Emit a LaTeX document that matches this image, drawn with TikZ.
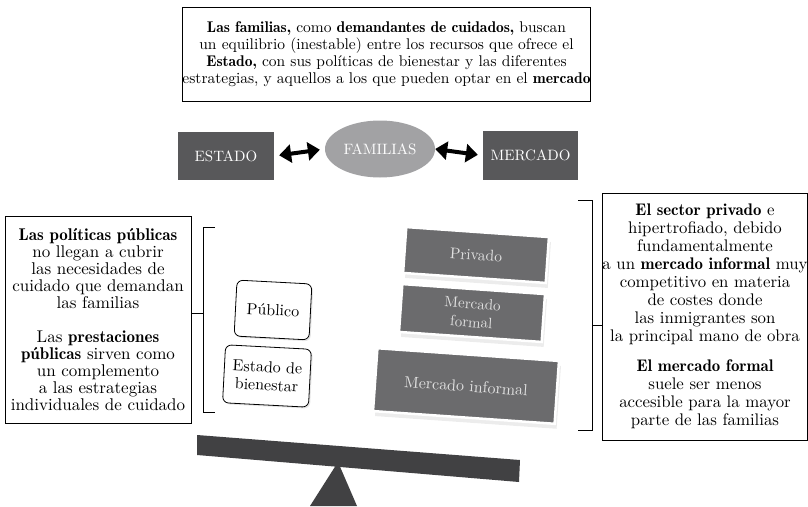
\documentclass[tikz,border=0pt]{standalone}
\usepackage{fontspec}
\setmainfont{lmroman10-regular.otf}[BoldFont=lmromandemi10-regular.otf,
  ItalicFont=lmroman10-italic.otf]
\usetikzlibrary{shapes.geometric,positioning,arrows.meta,shadows}

\definecolor{cajaoscura}{HTML}{58585A}
\definecolor{cajagris}{HTML}{6B6B6D}
\definecolor{elipsegris}{HTML}{A2A2A4}
\definecolor{balanza}{HTML}{414143}

\tikzset{
  textobox/.style={draw,line width=0.8pt,align=center,inner sep=0pt,
    font=\fontsize{15.5}{17}\selectfont},
  actor/.style={fill=cajaoscura,text=white,inner sep=0pt,
    font=\fontsize{15}{17}\selectfont},
  pieza/.style={rectangle,rounded corners=6pt,draw,fill=white,line width=0.8pt,align=center,
    inner sep=0pt,font=\fontsize{16}{18}\selectfont,
    drop shadow={opacity=0.2,shadow xshift=1.5pt,shadow yshift=-1.5pt}},
  bloque/.style={fill=cajagris,draw=white,line width=2.5pt,text=white!88!black,
    align=center,inner sep=0pt,font=\fontsize{15.5}{17}\selectfont,
    drop shadow={opacity=0.15,shadow xshift=2pt,shadow yshift=-5pt}},
  flecha/.style={line width=4pt,{Triangle[length=12pt,width=18pt]}-{Triangle[length=12pt,width=18pt]}},
  llave/.style={line width=0.8pt}
}

\begin{document}
\begin{tikzpicture}[x=1pt,y=-1pt]
  \useasboundingbox (0,0) rectangle (808,506);

  % cabecera
  \node[textobox,minimum width=399,minimum height=94] (lema) at (386.5,54)
    {\textbf{Las familias,} como \textbf{demandantes de cuidados,} buscan\\
     un equilibrio (inestable) entre los recursos que ofrece el\\
     \textbf{Estado,} con sus políticas de bienestar y las diferentes\\
     estrategias, y aquellos a los que pueden optar en el \textbf{mercado}};

  \node[actor,minimum width=96,minimum height=48] (estado) at (226,156) {ESTADO};
  \node[ellipse,fill=elipsegris,text=white,minimum width=110,minimum height=57,
    inner sep=0pt,font=\fontsize{15}{17}\selectfont] (familias) at (380,149) {FAMILIAS};
  \node[actor,minimum width=95,minimum height=49] (mercado) at (530.5,155.5) {MERCADO};
  \draw[flecha,shorten <=5pt,shorten >=5pt] (estado.east) -- (familias.west);
  \draw[flecha,shorten <=0pt,shorten >=5pt] (familias.east) -- (mercado.west);

  % lado publico
  \node[textobox,minimum width=186,minimum height=207,font=\fontsize{17}{17}\selectfont]
    (politicas) at (98,319.5)
    {\textbf{Las políticas públicas}\\
     no llegan a cubrir\\
     las necesidades de\\
     cuidado que demandan\\
     las familias\\[17pt]
     Las \textbf{prestaciones}\\
     \textbf{públicas} sirven como\\
     un complemento\\
     a las estrategias\\
     individuales de cuidado};
  \coordinate (llaveA-top) at (215,227);
  \coordinate (llaveA-mid) at (203,313);
  \coordinate (llaveA-bot) at (215,412);
  \draw[llave] (llaveA-top) -| (llaveA-bot -| llaveA-mid) -- (llaveA-bot);
  \draw[llave] (llaveA-mid) -- (politicas.east |- llaveA-mid);

  \node[pieza,rotate=-3,minimum width=75,minimum height=56] (publico) at (273,310) {Público};
  \node[pieza,rotate=-3,minimum width=86,minimum height=58] (bienestar) at (267,376)
    {Estado de\\ bienestar};

  % lado mercado
  \node[bloque,rotate=-4,minimum width=143,minimum height=46] (privado) at (476,255) {Privado};
  \node[bloque,rotate=-4,minimum width=143,minimum height=48,
    font=\fontsize{15}{18.5}\selectfont] (formal) at (472,313) {Mercado\\ formal};
  \node[bloque,rotate=-4,minimum width=182,minimum height=63,
    font=\fontsize{16}{17}\selectfont] (informal) at (466,386) {Mercado informal};

  \node[textobox,minimum width=202,minimum height=247,font=\fontsize{16.8}{18}\selectfont]
    (sector) at (705,316.5)
    {\textbf{El sector privado} e\\
     hipertrofiado, debido\\
     fundamentalmente\\
     a un \textbf{mercado informal} muy\\
     competitivo en materia\\
     de costes donde\\
     las inmigrantes son\\
     la principal mano de obra\\[12pt]
     \textbf{El mercado formal}\\
     suele ser menos\\
     accesible para la mayor\\
     parte de las familias};
  \coordinate (llaveB-top) at (578,200);
  \coordinate (llaveB-mid) at (592,325);
  \coordinate (llaveB-bot) at (578,430);
  \draw[llave] (llaveB-top) -| (llaveB-bot -| llaveB-mid) -- (llaveB-bot);
  \draw[llave] (llaveB-mid) -- (sector.west |- llaveB-mid);

  % balanza
  \fill[balanza] (338,462) -- (357,506) -- (310,506) -- cycle;
  \fill[balanza] (197,435) -- (520,460) -- (519,482) -- (197,455) -- cycle;
\end{tikzpicture}
\end{document}
